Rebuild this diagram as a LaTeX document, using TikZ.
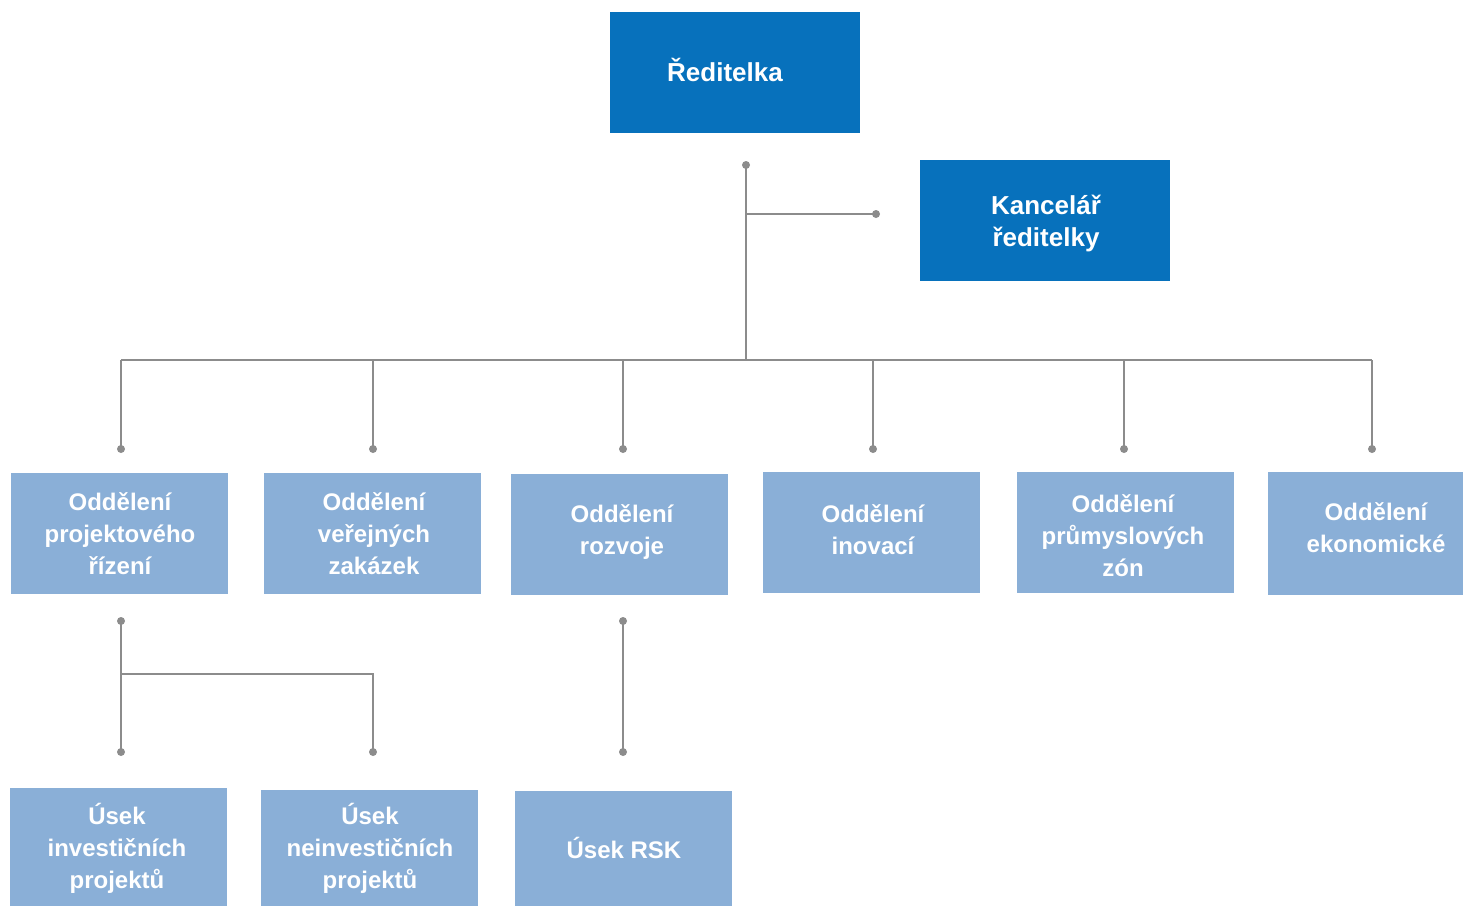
\documentclass[tikz,border=0pt]{standalone}
\usepackage{fontspec}
\setmainfont{Liberation Sans}
\definecolor{darkbox}{HTML}{0771BC}
\definecolor{lightbox}{HTML}{8AAFD7}
\definecolor{linec}{HTML}{8C8C8C}
\begin{document}
\begin{tikzpicture}[x=1pt,y=-1pt,
  dbox/.style={fill=darkbox, draw=none, inner sep=0pt},
  lbox/.style={fill=lightbox, draw=none, inner sep=0pt},
  dtxt/.style={text=white, font=\bfseries\fontsize{26}{32}\selectfont, align=center, inner sep=0pt},
  ltxt/.style={text=white, font=\bfseries\fontsize{24}{32}\selectfont, align=center, inner sep=0pt},
  conn/.style={draw=linec, line width=1.5pt},
  dot/.style={circle, fill=linec, inner sep=0pt, minimum size=8pt}
]
\useasboundingbox (0,0) rectangle (1463,906);
% boxes
\node[dbox, minimum width=250pt, minimum height=121pt] (dir) at (735,72.5) {};
\node[dtxt] (dirt) at (725,70) {Ředitelka};
\node[dbox, minimum width=250pt, minimum height=121pt] (kan) at (1045,220.5) {};
\node[dtxt] (kant) at (1046,223) {Kancelář\\ředitelky};

\node[lbox, minimum width=217pt, minimum height=121pt] (o1) at (119.5,533.5) {};
\node[ltxt] (o1t) at (120,534) {Oddělení\\projektového\\řízení};
\node[lbox, minimum width=217pt, minimum height=121pt] (o2) at (372.5,533.5) {};
\node[ltxt] (o2t) at (374,534) {Oddělení\\veřejných\\zakázek};
\node[lbox, minimum width=217pt, minimum height=121pt] (o3) at (619.5,534.5) {};
\node[ltxt] (o3t) at (622,532) {Oddělení\\rozvoje};
\node[lbox, minimum width=217pt, minimum height=121pt] (o4) at (871.5,532.5) {};
\node[ltxt] (o4t) at (873,530) {Oddělení\\inovací};
\node[lbox, minimum width=217pt, minimum height=121pt] (o5) at (1125.5,532.5) {};
\node[ltxt] (o5t) at (1123,536) {Oddělení\\průmyslových\\zón};
\node[lbox, minimum width=195pt, minimum height=123pt] (o6) at (1365.5,533.5) {};
\node[ltxt] (o6t) at (1376,528) {Oddělení\\ekonomické};

\node[lbox, minimum width=217pt, minimum height=118pt] (u1) at (118.5,847) {};
\node[ltxt] (u1t) at (117,848) {Úsek\\investičních\\projektů};
\node[lbox, minimum width=217pt, minimum height=116pt] (u2) at (369.5,848) {};
\node[ltxt] (u2t) at (370,848) {Úsek\\neinvestičních\\projektů};
\node[lbox, minimum width=217pt, minimum height=115pt] (u3) at (623.5,848.5) {};
\node[ltxt] (u3t) at (624,848) {Úsek RSK};

% connector points
\coordinate (top) at (746,165);
\coordinate (kb) at (746,214);
\coordinate (ke) at (876,214);
\coordinate (hub) at (746,360);
\coordinate (h1) at (121,360);
\coordinate (h2) at (373,360);
\coordinate (h3) at (623,360);
\coordinate (h4) at (873,360);
\coordinate (h5) at (1124,360);
\coordinate (h6) at (1372,360);
\coordinate (e1) at (121,449);
\coordinate (e2) at (373,449);
\coordinate (e3) at (623,449);
\coordinate (e4) at (873,449);
\coordinate (e5) at (1124,449);
\coordinate (e6) at (1372,449);
\coordinate (s1) at (121,621);
\coordinate (sb) at (121,674);
\coordinate (sc) at (373,674);
\coordinate (f1) at (121,752);
\coordinate (f2) at (373,752);
\coordinate (s3) at (623,621);
\coordinate (f3) at (623,752);

\draw[conn] (top) -- (hub);
\draw[conn] (kb) -- (ke);
\draw[conn] (h1) -- (h6);
\foreach \i in {1,...,6} { \draw[conn] (h\i) -- (e\i); \node[dot] at (e\i) {}; }
\draw[conn] (s1) -- (f1);
\draw[conn] (sb) -- (sc) -- (f2);
\draw[conn] (s3) -- (f3);
\foreach \p in {top,ke,s1,f1,f2,s3,f3} { \node[dot] at (\p) {}; }
\end{tikzpicture}
\end{document}
